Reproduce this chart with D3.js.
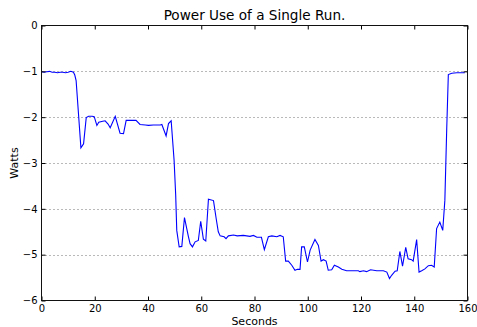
<!DOCTYPE html>
<html>
<head>
<meta charset="utf-8">
<script src="https://cdn.jsdelivr.net/npm/d3@7"></script>
<style>
  body { margin: 0; background: #fff; }
  text { font-family: "DejaVu Sans", sans-serif; fill: #000; }
</style>
</head>
<body>
<svg id="chart"></svg>
<script>
// sample times (s) and power draw (W)
var seconds = [0, 1, 2, 3, 4, 5, 6, 7, 8, 9, 10, 11, 12, 12.5, 13, 14.8, 15.8, 16.8, 17.7, 19, 19.8,
  20.8, 21.5, 23, 23.9, 25, 25.8, 27.7, 29.5, 30.8, 31.8, 33, 35.5, 37, 39, 40.2, 42, 44.6, 45.2,
  46.8, 47.7, 48.7, 49.8, 50.4, 50.8, 51.7, 52.7, 53.7, 55.2, 55.8, 56.7, 57.7, 58.9, 59.8, 60.8,
  61.7, 62.7, 64.6, 65.6, 66.4, 67.1, 68.6, 69.3, 70.2, 72.1, 73.5, 75.8, 78.3, 79.6, 80.9, 82.6,
  83.7, 85.2, 86.5, 88.4, 89.6, 90.8, 91.7, 92.7, 94, 95.2, 96.1, 97.1, 97.7, 98.7, 99.9, 100.9,
  102.7, 104, 105, 105.9, 106.9, 107.7, 109, 110, 111.5, 112.8, 114.6, 117.1, 119, 119.6, 120.9,
  122.1, 123.6, 125.9, 128.4, 129.7, 130.7, 131.5, 132.8, 133.6, 134.6, 135.6, 136.8, 137.7, 139,
  139.6, 140.9, 141.8, 142.8, 144, 145.3, 146.5, 147.5, 148.4, 149.6, 150.7, 151.5, 152.2, 152.8,
  154.1, 156, 159];
var watts = [-1.01, -1.02, -1.01, -1.0, -1.02, -1.02, -1.03, -1.02, -1.02, -1.03, -1.02, -1.0, -1.02,
  -1.08, -1.2, -2.67, -2.58, -2.01, -1.98, -1.98, -1.99,
  -2.18, -2.11, -2.09, -2.08, -2.15, -2.23, -1.98, -2.35, -2.36, -2.07, -2.07, -2.07, -2.16, -2.17,
  -2.18, -2.17, -2.17, -2.16,
  -2.41, -2.14, -2.08, -2.94, -3.7, -4.47, -4.83, -4.82, -4.19, -4.61, -4.76, -4.83, -4.72, -4.69,
  -4.27, -4.66,
  -4.7, -3.79, -3.82, -4.21, -4.5, -4.59, -4.61, -4.65, -4.59, -4.57, -4.59, -4.58, -4.6, -4.58,
  -4.62, -4.62,
  -4.89, -4.61, -4.59, -4.61, -4.58, -4.61, -5.14, -5.14, -5.23, -5.34, -5.32, -5.32, -4.83, -4.83,
  -5.16, -4.9,
  -4.67, -4.8, -5.14, -5.11, -5.14, -5.34, -5.33, -5.23, -5.27, -5.32, -5.35, -5.35, -5.35, -5.37,
  -5.35,
  -5.37, -5.33, -5.35, -5.35, -5.38, -5.52, -5.45, -5.36, -5.35, -4.93, -5.25, -4.84, -5.09, -5.11,
  -5.14, -4.67, -5.38, -5.35, -5.31, -5.24, -5.23, -5.27, -4.43, -4.29, -4.47, -3.81, -2.25, -1.07,
  -1.04, -1.03, -1.03];
var xTicks = [0, 20, 40, 60, 80, 100, 120, 140, 160];
var yTicks = [0, -1, -2, -3, -4, -5, -6];
var gridLevels = [-1, -2, -3, -4, -5];

var width = 477, height = 327;
var plotLeft = 41.5, plotRight = 467.5, plotTop = 25.5, plotBottom = 300.5;

var svg = d3.select('#chart')
  .attr('width', width)
  .attr('height', height);

var x = d3.scaleLinear().domain([0, 160]).range([plotLeft, plotRight]);
var y = d3.scaleLinear().domain([-6, 0]).range([plotBottom, plotTop]);

// dotted horizontal grid
svg.append('g')
  .selectAll('line')
  .data(gridLevels)
  .enter()
  .append('line')
  .attr('x1', plotLeft).attr('x2', plotRight)
  .attr('y1', function(d) { return Math.round(y(d)) + 0.5; })
  .attr('y2', function(d) { return Math.round(y(d)) + 0.5; })
  .attr('stroke', '#000')
  .attr('stroke-width', 1)
  .attr('stroke-dasharray', '1,3')
  .attr('opacity', 0.55);

// power line
var line = d3.line()
  .x(function(d, i) { return x(seconds[i]); })
  .y(function(d) { return y(d); });

svg.append('path')
  .datum(watts)
  .attr('d', line)
  .attr('fill', 'none')
  .attr('stroke', '#0000ff')
  .attr('stroke-width', 1.1);

// axes, ticks pointing inward on all four sides
function styleAxis(g) {
  g.select('.domain').remove();
  g.selectAll('.tick line').attr('stroke', '#000');
  g.selectAll('.tick text').attr('font-size', '10px').attr('font-family', 'DejaVu Sans, sans-serif').attr('fill', '#000');
}
var fmt = function(d) { return d3.format('d')(d).replace('-', '\u2212'); };

svg.append('g')
  .attr('transform', 'translate(0,' + plotBottom + ')')
  .call(d3.axisBottom(x).tickValues(xTicks).tickFormat(fmt).tickSizeInner(-4).tickPadding(4.5))
  .call(styleAxis);
svg.append('g')
  .attr('transform', 'translate(0,' + plotTop + ')')
  .call(d3.axisTop(x).tickValues(xTicks).tickSizeInner(-4).tickFormat(''))
  .call(styleAxis);
svg.append('g')
  .attr('transform', 'translate(' + plotLeft + ',0)')
  .call(d3.axisLeft(y).tickValues(yTicks).tickFormat(fmt).tickSizeInner(-4).tickPadding(4))
  .call(styleAxis);
svg.append('g')
  .attr('transform', 'translate(' + plotRight + ',0)')
  .call(d3.axisRight(y).tickValues(yTicks).tickSizeInner(-4).tickFormat(''))
  .call(styleAxis);

// frame
svg.append('rect')
  .attr('x', plotLeft).attr('y', plotTop)
  .attr('width', plotRight - plotLeft).attr('height', plotBottom - plotTop)
  .attr('fill', 'none')
  .attr('stroke', '#111')
  .attr('stroke-width', 1);

svg.append('text')
  .attr('x', (plotLeft + plotRight) / 2)
  .attr('y', 20)
  .attr('text-anchor', 'middle')
  .attr('font-size', '13.6px')
  .text('Power Use of a Single Run.');

svg.append('text')
  .attr('x', (plotLeft + plotRight) / 2)
  .attr('y', 325)
  .attr('text-anchor', 'middle')
  .attr('font-size', '11px')
  .text('Seconds');

svg.append('text')
  .attr('transform', 'translate(18,' + (plotTop + plotBottom) / 2 + ') rotate(-90)')
  .attr('text-anchor', 'middle')
  .attr('font-size', '11px')
  .text('Watts');
</script>
</body>
</html>
